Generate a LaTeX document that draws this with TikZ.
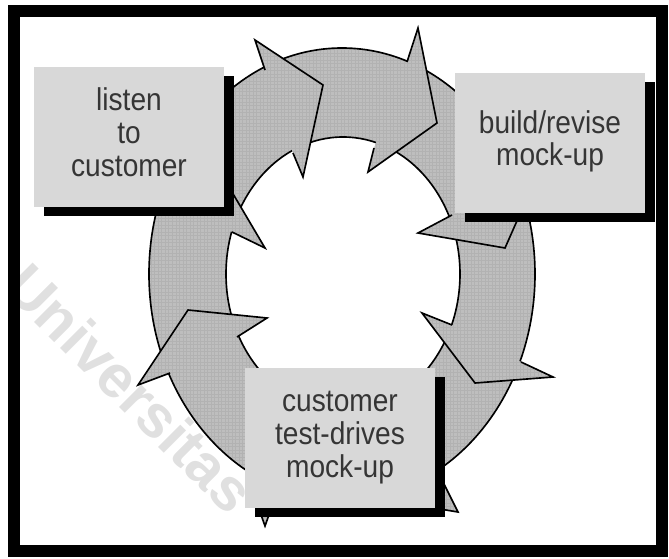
\documentclass[tikz,border=0pt]{standalone}
\usepackage{fontspec}
\setmainfont{Liberation Sans}
\usetikzlibrary{patterns,shadows}
\definecolor{ringgray}{HTML}{BEBEBE}
\definecolor{boxgray}{HTML}{D8D8D8}
\definecolor{textgray}{HTML}{353535}
\newcommand{\boxlines}[1]{\scalebox{1}[1.12]{\begin{tabular}{@{}c@{}}#1\end{tabular}}}

\begin{document}
\begin{tikzpicture}[x=0.03cm, y=-0.03cm,
  ringfill/.style={preaction={fill=ringgray}, pattern=grid, pattern color=black!30},
  outline/.style={line width=1.4pt, line join=miter},
  stepbox/.style={fill=boxgray, minimum width=5.7cm, minimum height=4.2cm, inner sep=0pt,
    font=\fontsize{24}{25}\selectfont, text=textgray,
    drop shadow={opacity=1, fill=black, shadow xshift=0.3cm, shadow yshift=-0.27cm}}]
\useasboundingbox (0,0) rectangle (669,559);

% frame
\draw [line width=0.36cm] (14,11) rectangle (662,551);

% ring
\filldraw [ringfill, outline] (342,274) ellipse [x radius=193, y radius=226];
\filldraw [fill=white, outline] (343,274) ellipse [x radius=117, y radius=137];

% arrow heads on the ring
\fill [ringfill] (265,70) -- (255,40) -- (323,85) -- (303,177) -- (293,153) -- cycle;
\draw [outline] (265,70) -- (255,40) -- (323,85) -- (303,177) -- (293,153);
\fill [ringfill] (407,62) -- (418,28) -- (437,123) -- (368,172) -- (374,148) -- cycle;
\draw [outline] (407,62) -- (418,28) -- (437,123) -- (368,172) -- (374,148);
\fill [ringfill] (452,215) -- (418,233) -- (505,248) -- (520,214) -- (470,205) -- cycle;
\draw [outline] (452,215) -- (418,233) -- (505,248) -- (520,214);
\fill [ringfill] (452,325) -- (422,313) -- (475,383) -- (553,377) -- (521,362) -- cycle;
\draw [outline] (452,325) -- (422,313) -- (475,383) -- (553,377) -- (521,362);
\fill [ringfill] (440,476) -- (458,512) -- (440,509) -- cycle;
\draw [outline] (440,476) -- (458,512) -- (440,509);
\filldraw [ringfill, outline] (260,512) -- (265,526) -- (270,512);
\fill [ringfill] (170,373) -- (138,385) -- (188,310) -- (267,318) -- (237,337) -- cycle;
\draw [outline] (170,373) -- (138,385) -- (188,310) -- (267,318) -- (237,337);
\fill [ringfill] (216,165) -- (265,248) -- (232,232) -- (210,215) -- cycle;
\draw [outline] (216,165) -- (265,248) -- (232,232);

% the three steps
\node [stepbox] (listen) at (129,137) {\boxlines{listen\\to\\customer}};
\node [stepbox] (build) at (550,143) {\boxlines{build/revise\\mock-up}};
\node [stepbox] (test) at (340,438) {\boxlines{customer\\test-drives\\mock-up}};

\node [rotate=-45, text=black, opacity=0.12, font=\fontsize{51}{51}\selectfont\bfseries] (mark) at (130,388) {Universitas};
\end{tikzpicture}
\end{document}
